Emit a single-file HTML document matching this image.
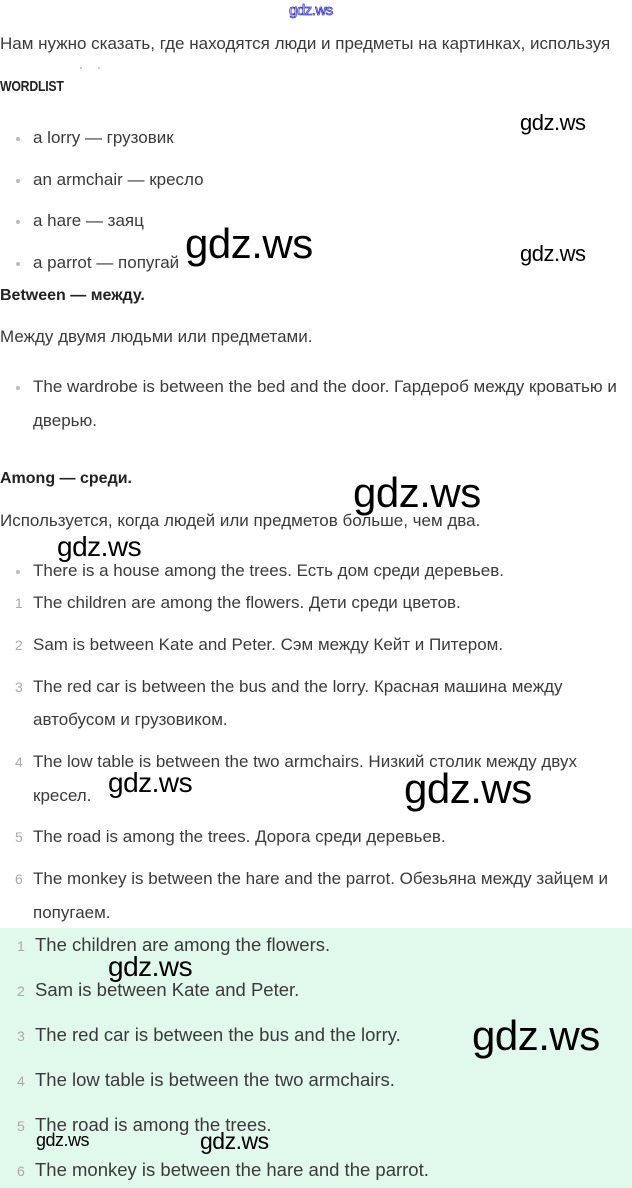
<!DOCTYPE html>
<html><head><meta charset="utf-8"><style>
html,body{margin:0;padding:0;width:632px;height:1188px;overflow:hidden;background:#fff;position:relative;font-family:"Liberation Sans","DejaVu Sans",sans-serif;}
.t{position:absolute;white-space:nowrap;font-size:17px;color:#3a3a3a;line-height:20px;}
.gt{font-size:18.5px;}
.b{font-weight:bold;color:#222;font-size:16px;}
.n{position:absolute;font-size:14px;color:#aaa;line-height:20px;}
.d{position:absolute;width:4px;height:4px;border-radius:2px;background:#bbb;}
.w{position:absolute;white-space:nowrap;color:#000;font-family:"Liberation Sans",sans-serif;line-height:1;letter-spacing:-0.5px;}
#g{position:absolute;left:0;top:928px;width:632px;height:260px;background:#e1f9ec;}
</style></head><body>
<div id="g"></div>
<div class="w" style="left:289px;top:3px;font-size:15px;color:#fff;-webkit-text-stroke:0.8px #3333cc;">gdz.ws</div>
<div class="t" style="left:0;top:34px;">Нам нужно сказать, где находятся люди и предметы на картинках, используя</div>
<div class="d" style="left:80px;top:67px;width:2px;height:2px"></div><div class="d" style="left:98px;top:67px;width:2px;height:2px"></div>
<div class="t b" style="left:0;top:77px;font-size:15px;letter-spacing:-0.3px;transform:scaleX(0.82);transform-origin:0 0">WORDLIST</div>
<div class="d" style="left:16px;top:137px"></div><div class="t" style="left:33px;top:128px">a lorry — грузовик</div>
<div class="d" style="left:16px;top:179px"></div><div class="t" style="left:33px;top:170px">an armchair — кресло</div>
<div class="d" style="left:16px;top:220px"></div><div class="t" style="left:33px;top:211px">a hare — заяц</div>
<div class="d" style="left:16px;top:262px"></div><div class="t" style="left:33px;top:253px">a parrot — попугай</div>
<div class="w" style="left:520px;top:112px;font-size:22px">gdz.ws</div>
<div class="w" style="left:185px;top:223px;font-size:42px">gdz.ws</div>
<div class="w" style="left:520px;top:243px;font-size:22px">gdz.ws</div>
<div class="t b" style="left:0;top:286px">Between — между.</div>
<div class="t" style="left:0;top:327px">Между двумя людьми или предметами.</div>
<div class="d" style="left:16px;top:386px"></div><div class="t" style="left:33px;top:377px">The wardrobe is between the bed and the door. Гардероб между кроватью и</div>
<div class="t" style="left:33px;top:411px">дверью.</div>
<div class="t b" style="left:0;top:469px">Among — среди.</div>
<div class="w" style="left:353px;top:472px;font-size:42px">gdz.ws</div>
<div class="t" style="left:0;top:511px">Используется, когда людей или предметов больше, чем два.</div>
<div class="w" style="left:57px;top:533px;font-size:28px">gdz.ws</div>
<div class="d" style="left:16px;top:570px"></div><div class="t" style="left:33px;top:561px">There is a house among the trees. Есть дом среди деревьев.</div>
<div class="n" style="left:15px;top:593px">1</div><div class="t" style="left:33px;top:593px">The children are among the flowers. Дети среди цветов.</div>
<div class="n" style="left:15px;top:635px">2</div><div class="t" style="left:33px;top:635px">Sam is between Kate and Peter. Сэм между Кейт и Питером.</div>
<div class="n" style="left:15px;top:677px">3</div><div class="t" style="left:33px;top:677px">The red car is between the bus and the lorry. Красная машина между</div>
<div class="t" style="left:33px;top:710px">автобусом и грузовиком.</div>
<div class="n" style="left:15px;top:752px">4</div><div class="t" style="left:33px;top:752px">The low table is between the two armchairs. Низкий столик между двух</div>
<div class="t" style="left:33px;top:786px">кресел.</div>
<div class="w" style="left:108px;top:769px;font-size:28px">gdz.ws</div>
<div class="w" style="left:404px;top:768px;font-size:42px">gdz.ws</div>
<div class="n" style="left:15px;top:827px">5</div><div class="t" style="left:33px;top:827px">The road is among the trees. Дорога среди деревьев.</div>
<div class="n" style="left:15px;top:869px">6</div><div class="t" style="left:33px;top:869px">The monkey is between the hare and the parrot. Обезьяна между зайцем и</div>
<div class="t" style="left:33px;top:903px">попугаем.</div>
<div class="n" style="left:17px;top:936px">1</div><div class="t gt" style="left:35px;top:935px">The children are among the flowers.</div>
<div class="w" style="left:108px;top:953px;font-size:28px">gdz.ws</div>
<div class="n" style="left:17px;top:981px">2</div><div class="t gt" style="left:35px;top:980px">Sam is between Kate and Peter.</div>
<div class="n" style="left:17px;top:1026px">3</div><div class="t gt" style="left:35px;top:1025px">The red car is between the bus and the lorry.</div>
<div class="w" style="left:472px;top:1015px;font-size:42px">gdz.ws</div>
<div class="n" style="left:17px;top:1071px">4</div><div class="t gt" style="left:35px;top:1070px">The low table is between the two armchairs.</div>
<div class="n" style="left:17px;top:1116px">5</div><div class="t gt" style="left:35px;top:1115px">The road is among the trees.</div>
<div class="w" style="left:36px;top:1131px;font-size:18px">gdz.ws</div>
<div class="w" style="left:200px;top:1130px;font-size:23px">gdz.ws</div>
<div class="n" style="left:17px;top:1161px">6</div><div class="t gt" style="left:35px;top:1160px">The monkey is between the hare and the parrot.</div>
</body></html>
